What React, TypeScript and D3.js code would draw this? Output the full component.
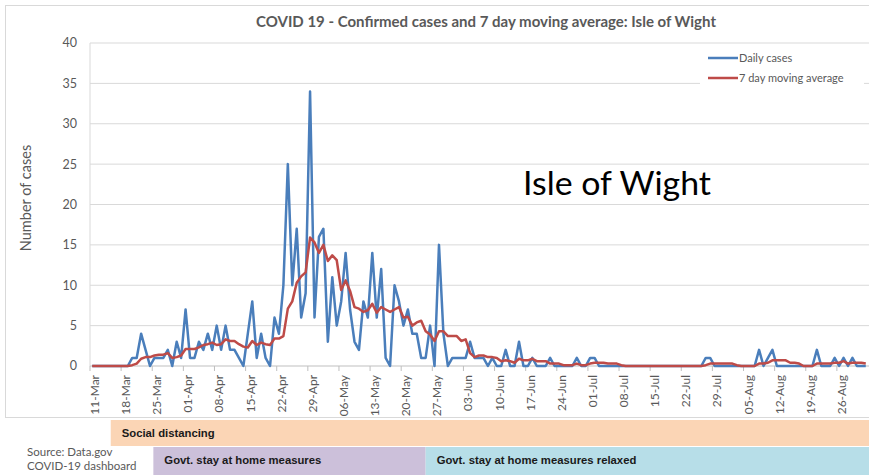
import React from 'react'
import * as d3 from 'd3'

// daily confirmed cases, 11-Mar .. 01-Sep (one row per week)
const dailyCases = [
  0, 0, 0, 0, 0, 0, 0,
  0, 0, 1, 1, 4, 2, 0,
  1, 1, 1, 2, 0, 3, 1,
  7, 1, 1, 3, 2, 4, 2,
  5, 2, 5, 2, 2, 1, 0,
  4, 8, 1, 4, 1, 0, 6,
  4, 10, 25, 10, 17, 6, 9,
  34, 6, 16, 17, 3, 11, 5,
  8, 14, 7, 3, 2, 8, 6,
  14, 6, 12, 1, 0, 10, 8,
  5, 7, 4, 4, 1, 1, 5,
  0, 15, 4, 0, 1, 1, 1,
  1, 3, 1, 1, 1, 0, 1,
  0, 0, 2, 0, 0, 3, 0,
  0, 1, 0, 0, 0, 1, 0,
  0, 0, 0, 0, 1, 0, 0,
  1, 1, 0, 0, 0, 0, 0,
  0, 0, 0, 0, 0, 0, 0,
  0, 0, 0, 0, 0, 0, 0,
  0, 0, 0, 0, 0, 1, 1,
  0, 0, 0, 0, 0, 0, 0,
  0, 0, 0, 2, 0, 1, 2,
  0, 0, 0, 0, 0, 0, 0,
  0, 0, 2, 0, 0, 0, 1,
  0, 1, 0, 1, 0, 0, 0,
]

// 7 day moving average
const movingAverage = [
  0, 0, 0, 0, 0, 0, 0,
  0, 0, 0.1, 0.3, 0.9, 1.1, 1.1,
  1.3, 1.4, 1.4, 1.6, 1.0, 1.1, 1.3,
  2.1, 2.1, 2.1, 2.3, 2.6, 2.7, 2.9,
  2.6, 2.7, 3.3, 3.1, 3.1, 2.7, 2.4,
  2.3, 3.1, 2.6, 2.9, 2.7, 2.6, 3.4,
  3.4, 3.7, 7.1, 8.0, 10.3, 11.1, 11.6,
  15.9, 15.3, 14.0, 15.0, 13.0, 13.7, 13.1,
  9.4, 10.6, 9.3, 7.3, 7.1, 6.7, 6.9,
  7.7, 6.6, 7.3, 7.0, 6.7, 7.0, 7.3,
  6.0, 6.1, 5.0, 5.4, 5.6, 4.3, 3.9,
  3.1, 4.3, 4.3, 3.7, 3.7, 3.7, 3.1,
  3.3, 1.6, 1.1, 1.3, 1.3, 1.1, 1.1,
  1.0, 0.6, 0.7, 0.6, 0.4, 0.9, 0.7,
  0.7, 0.9, 0.6, 0.6, 0.6, 0.3, 0.3,
  0.3, 0.1, 0.1, 0.1, 0.3, 0.1, 0.1,
  0.3, 0.4, 0.4, 0.4, 0.3, 0.3, 0.3,
  0.1, 0, 0, 0, 0, 0, 0,
  0, 0, 0, 0, 0, 0, 0,
  0, 0, 0, 0, 0, 0.1, 0.3,
  0.3, 0.3, 0.3, 0.3, 0.3, 0.1, 0,
  0, 0, 0, 0.3, 0.3, 0.4, 0.7,
  0.7, 0.7, 0.7, 0.4, 0.4, 0.3, 0,
  0, 0, 0.3, 0.3, 0.3, 0.3, 0.4,
  0.4, 0.6, 0.3, 0.4, 0.4, 0.4, 0.3,
]

const tickLabels = [
  '11-Mar', '18-Mar', '25-Mar', '01-Apr', '08-Apr', '15-Apr', '22-Apr', '29-Apr',
  '06-May', '13-May', '20-May', '27-May', '03-Jun', '10-Jun', '17-Jun', '24-Jun',
  '01-Jul', '08-Jul', '15-Jul', '22-Jul', '29-Jul', '05-Aug', '12-Aug', '19-Aug', '26-Aug',
]
const yTicks = [0, 5, 10, 15, 20, 25, 30, 35, 40]

const phases = [
  { label: 'Social distancing', start: '2020-03-15T16:00Z', row: 0, color: '#fbd5b5' },
  { label: 'Govt. stay at home measures', start: '2020-03-25T06:00Z', end: '2020-05-25T12:00Z', row: 1, color: '#ccc0da' },
  { label: 'Govt. stay at home measures relaxed', start: '2020-05-25T12:00Z', row: 1, color: '#b7dee8' },
]

const startDay = new Date(Date.UTC(2020, 2, 11))
const days = dailyCases.map((_, i) => d3.utcDay.offset(startDay, i))
const parseTick = d3.utcParse('%d-%b-%Y')
const tickDates = tickLabels.map(t => parseTick(t + '-2020'))

const W = 869
const H = 475
const chartFont = 'Lato, "Liberation Sans", sans-serif'
const grey = '#595959'

function App() {
  const x = d3.scaleUtc()
    .domain([startDay, d3.utcDay.offset(startDay, dailyCases.length)])
    .range([90, 868])
  const y = d3.scaleLinear().domain([0, 40]).range([366, 43])
  const mid = (d: Date) => x(d3.utcHour.offset(d, 12))

  const line = d3.line<number>()
    .x((_, i) => mid(days[i]))
    .y(d => y(d))

  return (
    <svg width={W} height={H} style={{ position: 'absolute', left: 0, top: 0, background: '#fff' }}>
      <rect x={5.5} y={5.5} width={W} height={412} fill="#fff" stroke="#d9d9d9" />

      <text x={486} y={27} textAnchor="middle" fontFamily={chartFont} fontWeight="bold" fontSize={15} fill={grey}>
        COVID 19 - Confirmed cases and 7 day moving average: Isle of Wight
      </text>

      {yTicks.map(t => (
        <g key={t}>
          <line x1={90} x2={W} y1={y(t)} y2={y(t)} stroke={t === 0 ? '#bfbfbf' : '#d9d9d9'} />
          <text x={77} y={y(t)} dy="0.35em" textAnchor="end" fontFamily={chartFont} fontSize={12.5} fill={grey}>{t}</text>
        </g>
      ))}
      <line x1={90} x2={90} y1={y(40)} y2={y(0)} stroke="#d9d9d9" />

      {tickDates.map((d, i) => (
        <g key={tickLabels[i]}>
          <line x1={x(d)} x2={x(d)} y1={366} y2={371} stroke="#bfbfbf" />
          <text transform={`translate(${x(d) + 9},375) rotate(-90)`} textAnchor="end"
            fontFamily={chartFont} fontSize={12} fill={grey}>{tickLabels[i]}</text>
        </g>
      ))}

      <text transform="translate(31,198) rotate(-90)" textAnchor="middle" fontFamily={chartFont} fontSize={14.5} fill={grey}>
        Number of cases
      </text>

      <path d={line(dailyCases) || ''} fill="none" stroke="#4a7ebb" strokeWidth={2.5} strokeLinejoin="round" />
      <path d={line(movingAverage) || ''} fill="none" stroke="#be4b48" strokeWidth={2.5} strokeLinejoin="round" />

      <rect x={700} y={46} width={164} height={42} fill="#fff" />
      <line x1={708} x2={738} y1={58} y2={58} stroke="#4a7ebb" strokeWidth={2.5} />
      <text x={739} y={58} dy="0.35em" fontFamily={chartFont} fontSize={11} fill={grey}>Daily cases</text>
      <line x1={708} x2={738} y1={78} y2={78} stroke="#be4b48" strokeWidth={2.5} />
      <text x={739} y={78} dy="0.35em" fontFamily={chartFont} fontSize={11} fill={grey}>7 day moving average</text>

      <text x={523} y={195} fontFamily={chartFont} fontSize={33} fill="#000" textLength={188} lengthAdjust="spacingAndGlyphs">
        Isle of Wight
      </text>

      {phases.map(p => {
        const x0 = x(new Date(p.start))
        const x1 = p.end ? x(new Date(p.end)) : W
        const top = p.row === 0 ? 420 : 447
        return (
          <g key={p.label}>
            <rect x={x0} y={top} width={x1 - x0} height={p.row === 0 ? 26 : 28} fill={p.color} />
            <text x={x0 + 11} y={top + 17} fontFamily='"Liberation Sans", Arial, sans-serif' fontWeight="bold" fontSize={11.3} fill="#1a1a1a">
              {p.label}
            </text>
          </g>
        )
      })}

      <text x={27} y={456} fontFamily={chartFont} fontSize={11.5} fill={grey}>Source: Data.gov</text>
      <text x={27} y={470} fontFamily={chartFont} fontSize={11.5} fill={grey}>COVID-19 dashboard</text>
    </svg>
  )
}

export default App
